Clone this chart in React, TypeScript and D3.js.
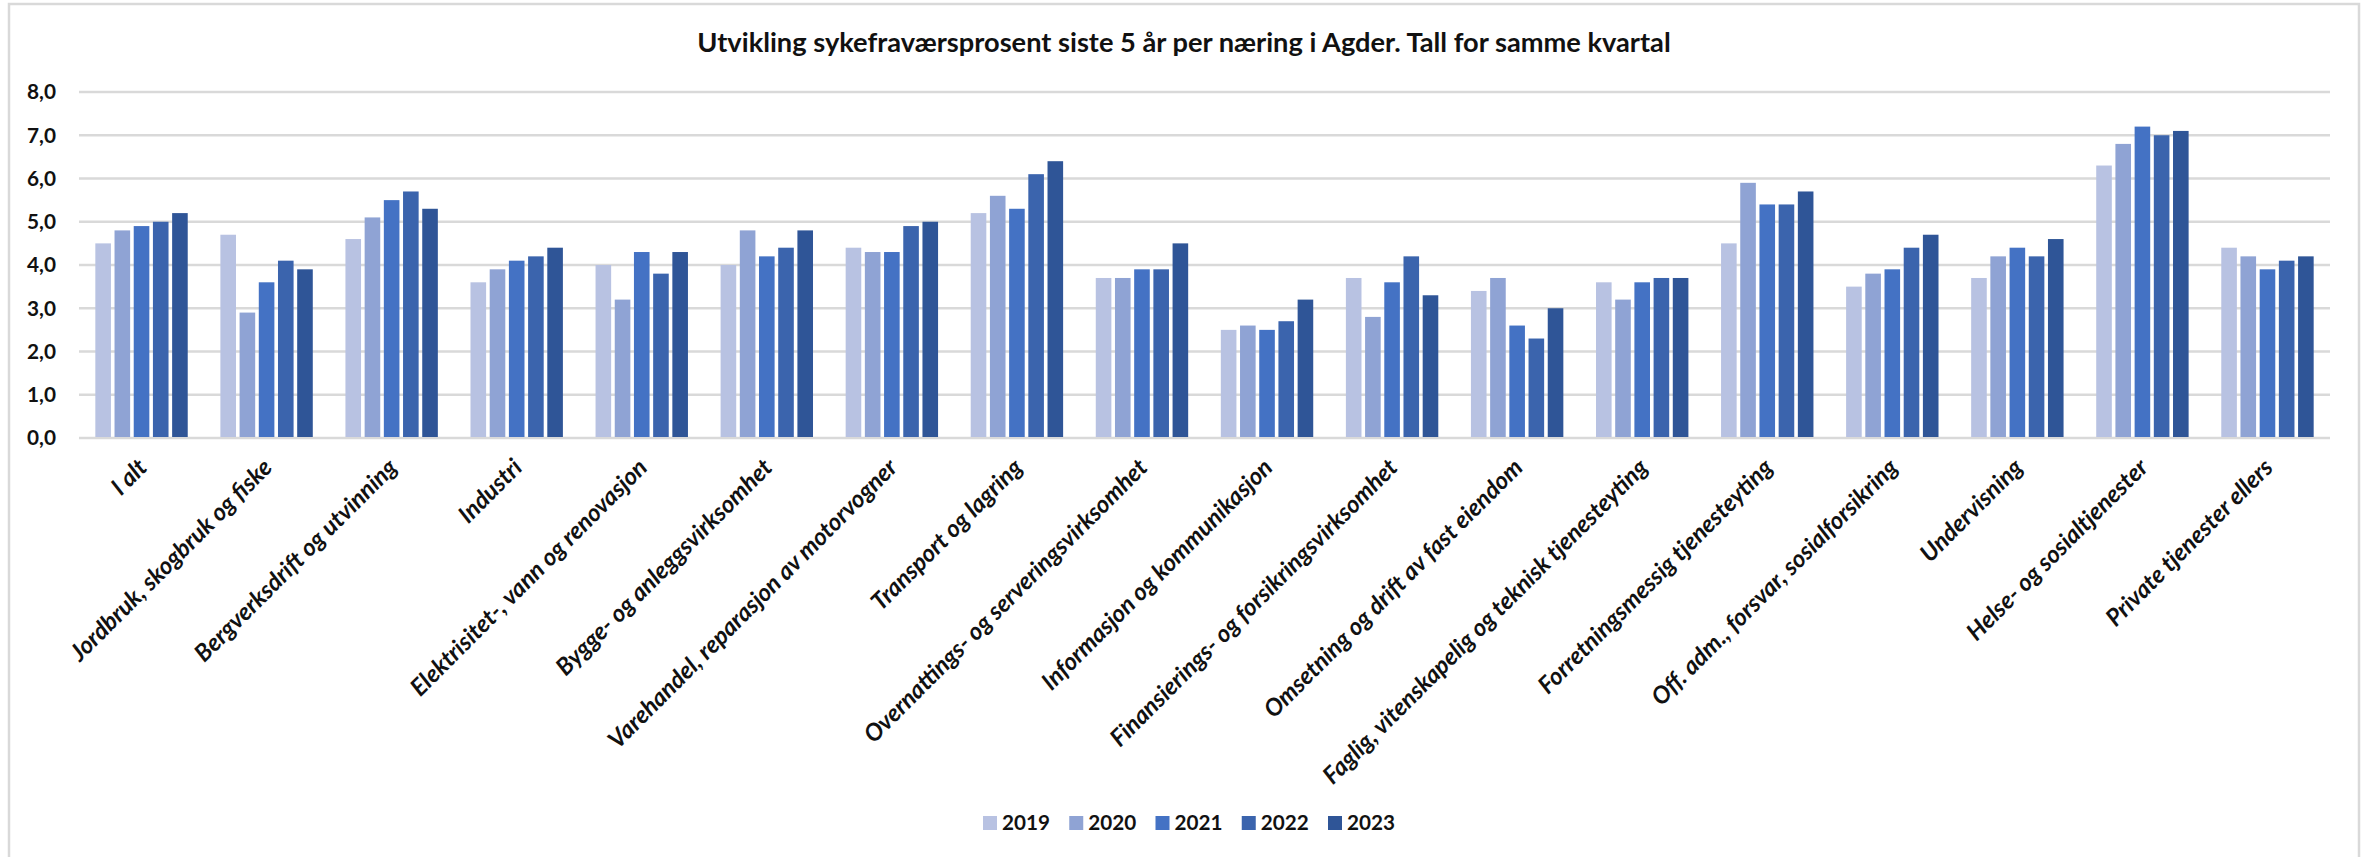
import React, { useLayoutEffect, useRef, useState } from 'react';
import * as d3 from 'd3';

const categories = [
  'I alt',
  'Jordbruk, skogbruk og fiske',
  'Bergverksdrift og utvinning',
  'Industri',
  'Elektrisitet-, vann og renovasjon',
  'Bygge- og anleggsvirksomhet',
  'Varehandel, reparasjon av motorvogner',
  'Transport og lagring',
  'Overnattings- og serveringsvirksomhet',
  'Informasjon og kommunikasjon',
  'Finansierings- og forsikringsvirksomhet',
  'Omsetning og drift av fast eiendom',
  'Faglig, vitenskapelig og teknisk tjenesteyting',
  'Forretningsmessig tjenesteyting',
  'Off. adm., forsvar, sosialforsikring',
  'Undervisning',
  'Helse- og sosialtjenester',
  'Private tjenester ellers',
];

const years = ['2019', '2020', '2021', '2022', '2023'];

const v2019 = [4.5, 4.7, 4.6, 3.6, 4.0, 4.0, 4.4, 5.2, 3.7, 2.5, 3.7, 3.4, 3.6, 4.5, 3.5, 3.7, 6.3, 4.4];
const v2020 = [4.8, 2.9, 5.1, 3.9, 3.2, 4.8, 4.3, 5.6, 3.7, 2.6, 2.8, 3.7, 3.2, 5.9, 3.8, 4.2, 6.8, 4.2];
const v2021 = [4.9, 3.6, 5.5, 4.1, 4.3, 4.2, 4.3, 5.3, 3.9, 2.5, 3.6, 2.6, 3.6, 5.4, 3.9, 4.4, 7.2, 3.9];
const v2022 = [5.0, 4.1, 5.7, 4.2, 3.8, 4.4, 4.9, 6.1, 3.9, 2.7, 4.2, 2.3, 3.7, 5.4, 4.4, 4.2, 7.0, 4.1];
const v2023 = [5.2, 3.9, 5.3, 4.4, 4.3, 4.8, 5.0, 6.4, 4.5, 3.2, 3.3, 3.0, 3.7, 5.7, 4.7, 4.6, 7.1, 4.2];

const seriesValues = [v2019, v2020, v2021, v2022, v2023];
const colors = ['#B8C2E2', '#8FA3D4', '#4472C4', '#3B64AD', '#2F5597'];
const yTicks = [0, 1, 2, 3, 4, 5, 6, 7, 8];

const title = 'Utvikling sykefraværsprosent siste 5 år per næring i Agder. Tall for samme kvartal';

const W = 2369;
const H = 857;
const plotLeft = 79;
const plotRight = 2330;
const plotTop = 92;
const plotBottom = 438;
const FONT = 'Lato, "Open Sans", sans-serif';
const BASE = 20;

export default function App() {
  const refTitle = useRef<SVGTextElement>(null);
  const refA = useRef<SVGTextElement>(null);
  const refB = useRef<SVGTextElement>(null);
  const refLeg = useRef<SVGTextElement>(null);
  const refY = useRef<SVGTextElement>(null);
  const [fs, setFs] = useState({ title: 28, label: 21, legend: 21, y: 21 });

  useLayoutEffect(() => {
    try {
      const t = refTitle.current!.getComputedTextLength();
      const a = refA.current!.getComputedTextLength();
      const b = refB.current!.getComputedTextLength();
      const l = refLeg.current!.getComputedTextLength();
      const yy = refY.current!.getComputedTextLength();
      if (t > 0 && a > 0 && b > 0 && l > 0 && yy > 0) {
        setFs({
          title: (BASE * 974) / t,
          label: (BASE * (385 / a + 277 / b)) / 2,
          legend: (BASE * 48) / l,
          y: (BASE * 29) / yy,
        });
      }
    } catch (e) {
      /* keep defaults */
    }
  }, []);

  const x0 = d3.scaleBand<string>().domain(categories).range([plotLeft, plotRight]).padding(0);
  const groupW = 96;
  const x1 = d3.scaleBand<string>().domain(years).range([0, groupW]).padding(0);
  const y = d3.scaleLinear().domain([0, 8]).range([plotBottom, plotTop]);
  const inset = 1.8;
  const fmt = (v: number) => v.toFixed(1).replace('.', ',');

  const legendX = d3.scalePoint<string>().domain(years).range([983, 1328]);

  return (
    <svg width={W} height={H} style={{ position: 'absolute', left: 0, top: 0, background: '#fff' }}>
      <rect x={0} y={0} width={W} height={H} fill="#fff" />
      <g visibility="hidden">
        <text ref={refTitle} fontFamily={FONT} fontWeight={700} fontSize={BASE}>{title}</text>
        <text ref={refA} fontFamily={FONT} fontWeight={700} fontStyle="italic" fontSize={BASE}>{categories[8]}</text>
        <text ref={refB} fontFamily={FONT} fontWeight={700} fontStyle="italic" fontSize={BASE}>{categories[1]}</text>
        <text ref={refLeg} fontFamily={FONT} fontWeight={700} fontSize={BASE}>{years[0]}</text>
        <text ref={refY} fontFamily={FONT} fontWeight={700} fontSize={BASE}>{fmt(8)}</text>
      </g>
      <rect x={9} y={4} width={2350} height={H + 20} fill="none" stroke="#D9D9D9" strokeWidth={2.5} />
      <text x={1184} y={52} textAnchor="middle" fontFamily={FONT} fontWeight={700} fontSize={fs.title} fill="#111">
        {title}
      </text>
      {yTicks.map((t) => (
        <g key={t}>
          <line x1={plotLeft} x2={plotRight} y1={y(t)} y2={y(t)} stroke="#D9D9D9" strokeWidth={2.5} />
          <text x={56} y={y(t)} dy="0.36em" textAnchor="end" fontFamily={FONT} fontWeight={700} fontSize={fs.y} fill="#111">
            {fmt(t)}
          </text>
        </g>
      ))}
      {categories.map((c, i) => {
        const gx = (x0(c) as number) + (x0.bandwidth() - groupW) / 2;
        return (
          <g key={c}>
            {years.map((yr, s) => {
              const v = seriesValues[s][i];
              return (
                <rect
                  key={yr}
                  x={gx + (x1(yr) as number) + inset}
                  y={y(v)}
                  width={x1.bandwidth() - inset * 2}
                  height={plotBottom - 1 - y(v)}
                  fill={colors[s]}
                />
              );
            })}
          </g>
        );
      })}
      {categories.map((c) => {
        const cx = (x0(c) as number) + x0.bandwidth() / 2;
        const ax = cx + 7;
        const ay = 469;
        return (
          <text
            key={c}
            x={ax}
            y={ay}
            transform={`rotate(-45 ${ax} ${ay})`}
            textAnchor="end"
            fontFamily={FONT}
            fontWeight={700}
            fontStyle="italic"
            fontSize={fs.label}
            fill="#111"
          >
            {c}
          </text>
        );
      })}
      {years.map((yr, s) => {
        const lx = legendX(yr) as number;
        return (
          <g key={yr}>
            <rect x={lx} y={816} width={14} height={14} fill={colors[s]} />
            <text x={lx + 19} y={830} fontFamily={FONT} fontWeight={700} fontSize={fs.legend} fill="#111">
              {yr}
            </text>
          </g>
        );
      })}
    </svg>
  );
}
